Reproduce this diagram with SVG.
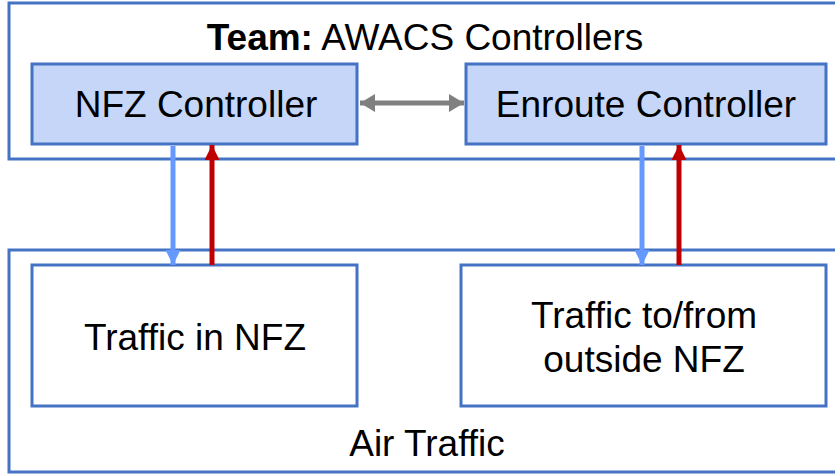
<svg xmlns="http://www.w3.org/2000/svg" width="835" height="475" viewBox="0 0 835 475">
  <defs>
    <style>
      .frame { fill: #ffffff; stroke: #4472C4; stroke-width: 3; }
      .ctrl { fill: #C5D6F8; stroke: #4472C4; stroke-width: 3; }
      .box { fill: #ffffff; stroke: #4472C4; stroke-width: 3; }
      text { font-family: "Liberation Sans", Arial, sans-serif; font-size: 37px; fill: #000000; }
      .down { stroke: #6699FF; stroke-width: 5; fill: none; }
      .up { stroke: #C00000; stroke-width: 5; fill: none; }
      .peer { stroke: #808080; stroke-width: 5; fill: none; }
    </style>
    <marker id="headBlue" viewBox="0 0 10 10" refX="10" refY="5" markerWidth="3" markerHeight="3" orient="auto" markerUnits="strokeWidth">
      <path d="M0,0 L10,5 L0,10 z" fill="#6699FF"/>
    </marker>
    <marker id="headRed" viewBox="0 0 10 10" refX="10" refY="5" markerWidth="3" markerHeight="3" orient="auto" markerUnits="strokeWidth">
      <path d="M0,0 L10,5 L0,10 z" fill="#C00000"/>
    </marker>
    <marker id="headGray" viewBox="0 0 10 10" refX="10" refY="5" markerWidth="3" markerHeight="3.6" orient="auto-start-reverse" markerUnits="strokeWidth" preserveAspectRatio="none">
      <path d="M0,0 L10,5 L0,10 z" fill="#808080"/>
    </marker>
  </defs>

  <!-- Team frame -->
  <g id="team">
    <rect class="frame" x="9" y="3" width="840" height="156"/>
    <text x="425" y="50" text-anchor="middle"><tspan font-weight="bold">Team:</tspan> AWACS Controllers</text>
  </g>

  <!-- Air traffic frame -->
  <g id="air-traffic">
    <rect class="frame" x="9" y="250" width="840" height="222"/>
    <text x="427" y="456" text-anchor="middle">Air Traffic</text>
  </g>

  <g id="nfz-controller">
    <rect class="ctrl" x="32" y="64" width="325" height="80"/>
    <text x="196" y="117" text-anchor="middle">NFZ Controller</text>
  </g>

  <g id="enroute-controller">
    <rect class="ctrl" x="466" y="64" width="360" height="80"/>
    <text x="646" y="117" text-anchor="middle">Enroute Controller</text>
  </g>

  <g id="traffic-nfz">
    <rect class="box" x="32" y="265" width="325" height="141"/>
    <text x="195" y="350" text-anchor="middle">Traffic in NFZ</text>
  </g>

  <g id="traffic-outside">
    <rect class="box" x="461" y="265" width="365" height="141"/>
    <text x="644" y="328" text-anchor="middle">Traffic to/from</text>
    <text x="644" y="372" text-anchor="middle">outside NFZ</text>
  </g>

  <!-- Connectors -->
  <g id="connectors">
    <line class="peer" x1="360" y1="103" x2="464" y2="103" marker-start="url(#headGray)" marker-end="url(#headGray)"/>
    <line class="down" x1="173" y1="146" x2="173" y2="265" marker-end="url(#headBlue)"/>
    <line class="up" x1="212" y1="265" x2="212" y2="145" marker-end="url(#headRed)"/>
    <line class="down" x1="642" y1="146" x2="642" y2="265" marker-end="url(#headBlue)"/>
    <line class="up" x1="679" y1="265" x2="679" y2="145" marker-end="url(#headRed)"/>
  </g>
</svg>
